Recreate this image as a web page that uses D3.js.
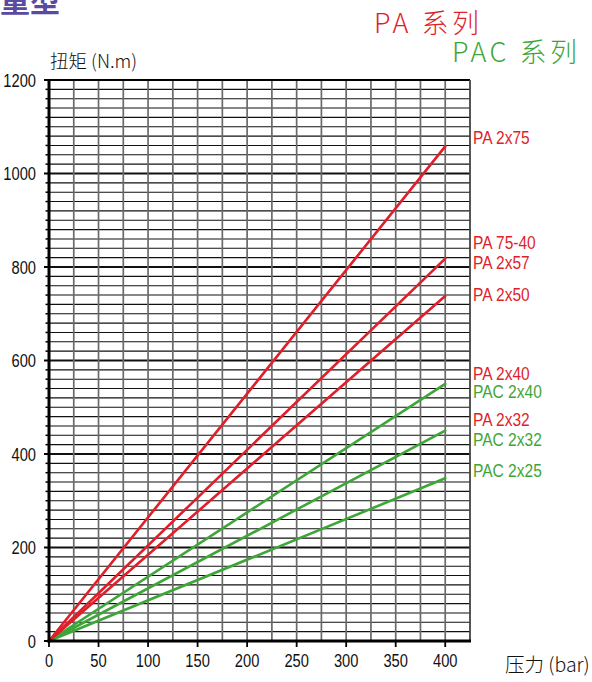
<!DOCTYPE html>
<html>
<head>
<meta charset="utf-8">
<script src="https://cdn.jsdelivr.net/npm/d3@7"></script>
<style>
  html, body { margin: 0; padding: 0; background: #fff; }
  svg { display: block; }
</style>
</head>
<body>
<svg id="chart" width="592" height="682"></svg>
<script>
// Pressure (bar) at start and end of each torque line
const pressure = [0, 400];

// Torque (N.m) reached by each actuator model at 0 and 400 bar
const paSeries = [
  { name: "PA 2x75", values: [0, 1058] },
  { name: "PA 2x57", values: [0, 818] },
  { name: "PA 2x50", values: [0, 738] }
];
const pacSeries = [
  { name: "PAC 2x40", values: [0, 550] },
  { name: "PAC 2x32", values: [0, 450] },
  { name: "PAC 2x25", values: [0, 348] }
];

// Model labels listed on the right, anchored at a torque level
const labelNames  = ["PA 2x75", "PA 75-40", "PA 2x57", "PA 2x50", "PA 2x40", "PAC 2x40", "PA 2x32", "PAC 2x32", "PAC 2x25"];
const labelTorque = [1078, 853, 810, 742, 573, 533, 473, 432, 364];
const labelFamily = ["PA", "PA", "PA", "PA", "PA", "PAC", "PA", "PAC", "PAC"];

const xTicks = [0, 50, 100, 150, 200, 250, 300, 350, 400];
const yTicks = [0, 200, 400, 600, 800, 1000, 1200];

const RED = "#e01f2b";
const GREEN = "#3ea638";
const NARROW = 0.84;

const svg = d3.select("#chart");
const x = d3.scaleLinear().domain([0, 425]).range([49, 470]);
const y = d3.scaleLinear().domain([0, 1200]).range([641, 80]);

// Heading, clipped by the top edge of the page
svg.append("text")
  .attr("x", 0).attr("y", 12)
  .attr("font-family", "Noto Sans CJK SC")
  .attr("font-weight", 700)
  .attr("font-size", 30)
  .attr("fill", "#5a4aa2")
  .text("重型");

// Series legend
svg.append("text")
  .attr("x", 374).attr("y", 33)
  .attr("font-family", "Noto Sans CJK SC, Liberation Sans")
  .attr("font-size", 27).attr("font-weight", 300)
  .attr("letter-spacing", 3.5)
  .attr("fill", RED)
  .text("PA 系列");
svg.append("text")
  .attr("x", 452).attr("y", 62)
  .attr("font-family", "Noto Sans CJK SC, Liberation Sans")
  .attr("font-size", 27).attr("font-weight", 300)
  .attr("letter-spacing", 3.5)
  .attr("fill", GREEN)
  .text("PAC 系列");

// Grid
const grid = svg.append("g");
const minorY = d3.range(20, 1200, 20);
grid.selectAll("line.h").data(minorY).join("line")
  .attr("x1", x(0)).attr("x2", x(425))
  .attr("y1", d => y(d)).attr("y2", d => y(d))
  .attr("stroke", "#111")
  .attr("stroke-width", d => d % 200 === 0 ? 2 : 1.1);
const minorX = d3.range(25, 425, 25);
grid.selectAll("line.v").data(minorX).join("line")
  .attr("y1", y(0)).attr("y2", y(1200))
  .attr("x1", d => x(d)).attr("x2", d => x(d))
  .attr("stroke", "#6a6a6a")
  .attr("stroke-width", 1.7);

// Frame: top and right
svg.append("line").attr("x1", x(0)).attr("x2", x(425)).attr("y1", y(1200)).attr("y2", y(1200))
  .attr("stroke", "#000").attr("stroke-width", 2);
svg.append("line").attr("x1", x(425)).attr("x2", x(425)).attr("y1", y(1200)).attr("y2", y(0))
  .attr("stroke", "#444").attr("stroke-width", 1.8);

// Torque lines
const line = d3.line().x((d, i) => x(pressure[i])).y(d => y(d));
const lines = svg.append("g").attr("fill", "none").attr("stroke-width", 2.6).attr("stroke-linecap", "round");
lines.selectAll("path.pac").data(pacSeries).join("path")
  .attr("d", d => line(d.values)).attr("stroke", GREEN);
lines.selectAll("path.pa").data(paSeries).join("path")
  .attr("d", d => line(d.values)).attr("stroke", RED);

// Left axis
const yAxis = svg.append("g");
yAxis.append("line").attr("x1", x(0)).attr("x2", x(0)).attr("y1", y(1200) - 1).attr("y2", y(0) + 1.5)
  .attr("stroke", "#000").attr("stroke-width", 3);
yAxis.selectAll("line.t").data(d3.range(0, 1201, 20)).join("line")
  .attr("x1", d => d % 200 === 0 ? x(0) - 5 : x(0) - 3.5).attr("x2", x(0))
  .attr("y1", d => y(d)).attr("y2", d => y(d))
  .attr("stroke", "#000").attr("stroke-width", d => d % 200 === 0 ? 2 : 1.5);
yAxis.selectAll("text").data(yTicks).join("text")
  .attr("transform", d => `translate(36,${y(d) + 6.5}) scale(${NARROW},1)`)
  .attr("text-anchor", "end")
  .attr("font-family", "Liberation Sans, Arial, sans-serif")
  .attr("font-size", 17.5)
  .attr("fill", "#111")
  .text(d => d);

// Bottom axis
const xAxis = svg.append("g");
xAxis.append("line").attr("x1", x(0) - 1.5).attr("x2", x(425) + 1).attr("y1", y(0)).attr("y2", y(0))
  .attr("stroke", "#000").attr("stroke-width", 3);
xAxis.selectAll("line.t").data(xTicks).join("line")
  .attr("x1", d => x(d)).attr("x2", d => x(d))
  .attr("y1", y(0)).attr("y2", y(0) + 6)
  .attr("stroke", "#000").attr("stroke-width", 1.8);
xAxis.selectAll("text").data(xTicks).join("text")
  .attr("transform", d => `translate(${x(d)},667) scale(${NARROW},1)`)
  .attr("text-anchor", "middle")
  .attr("font-family", "Liberation Sans, Arial, sans-serif")
  .attr("font-size", 17.5)
  .attr("fill", "#111")
  .text(d => d);

// Axis titles
svg.append("text")
  .attr("x", 50).attr("y", 68)
  .attr("font-family", "Noto Sans CJK SC, Liberation Sans")
  .attr("font-size", 18.5).attr("font-weight", 300)
  .attr("fill", "#111")
  .text("扭矩 (N.m)");
svg.append("text")
  .attr("x", 505).attr("y", 672)
  .attr("font-family", "Noto Sans CJK SC, Liberation Sans")
  .attr("font-size", 19.5).attr("font-weight", 300)
  .attr("fill", "#111")
  .text("压力 (bar)");

// Model labels
svg.append("g").selectAll("text").data(labelNames).join("text")
  .attr("transform", (d, i) => `translate(473,${y(labelTorque[i]) + 6.5}) scale(${NARROW},1)`)
  .attr("font-family", "Liberation Sans, Arial, sans-serif")
  .attr("font-size", 18.5)
  .attr("fill", (d, i) => labelFamily[i] === "PA" ? RED : GREEN)
  .text(d => d);
</script>
</body>
</html>
